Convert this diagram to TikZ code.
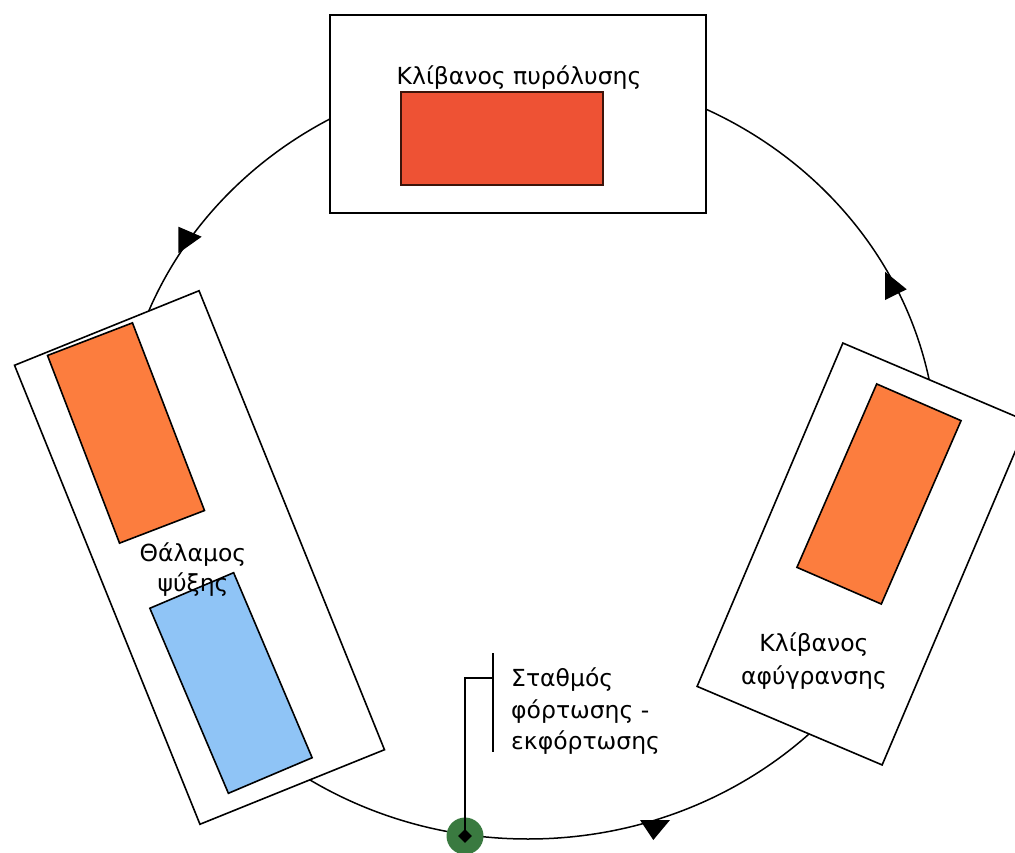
\documentclass[tikz,border=0pt]{standalone}
\usepackage{fontspec}
\setmainfont{DejaVu Sans}
\usetikzlibrary{shapes.geometric}
\definecolor{furnred}{RGB}{238,82,52}
\definecolor{furnredborder}{RGB}{60,20,10}
\definecolor{ovenorange}{RGB}{252,125,62}
\definecolor{coolblue}{RGB}{143,196,246}
\definecolor{stationgreen}{RGB}{58,122,64}
\begin{document}
\begin{tikzpicture}[x=1pt,y=-1pt,
  frame/.style={draw=black, line width=1.6pt, fill=white, inner sep=0pt, outer sep=0pt},
  core/.style={draw=black, line width=1.6pt, inner sep=0pt, outer sep=0pt},
  lbl/.style={inner sep=0pt, align=center},
  tip/.style={fill=black},
  wire/.style={draw=black, line width=1.4pt}
]
\clip (0,0) rectangle (1015,853);
\fill[white] (0,0) rectangle (1015,853);

% ring path
\node[ellipse, draw=black, line width=1.5pt, minimum width=818pt, minimum height=768pt, inner sep=0pt, outer sep=0pt] (ring) at (528,455) {};

% pyrolysis furnace (top)
\node[frame, minimum width=376pt, minimum height=198pt] (pyro) at (518,114) {};
\node[core, draw=furnredborder, line width=2.2pt, fill=furnred, minimum width=202pt, minimum height=93pt] (pyrocore) at (502,138.5) {};
\node[lbl, anchor=base, font=\fontsize{23.5}{31}\selectfont] (pyrolbl) at (519,85) {Κλίβανος πυρόλυσης};

% cooling chamber (left)
\node[frame, minimum width=199pt, minimum height=495pt, rotate=22] (cool) at (199.5,557.5) {};
\node[core, fill=ovenorange, minimum width=91pt, minimum height=201pt, rotate=21] (coolhot) at (126,433) {};
\node[core, fill=coolblue, minimum width=91pt, minimum height=201pt, rotate=23] (coolcold) at (231,683) {};
\node[lbl, anchor=north, font=\fontsize{23.5}{30}\selectfont] (coollbl) at (193,542.5) {Θάλαμος\\ψύξης};

% dewaxing furnace (right)
\node[frame, minimum width=201pt, minimum height=373pt, rotate=-23] (dewax) at (862.5,554) {};
\node[core, fill=ovenorange, minimum width=92pt, minimum height=200pt, rotate=-23.5] (dewaxcore) at (879,494) {};
\node[lbl, anchor=north, font=\fontsize{23.5}{33}\selectfont] (dewaxlbl) at (814,632.5) {Κλίβανος\\αφύγρανσης};

% arrow markers on the ring
\fill[tip] (178.3,226.7) -- (201.7,236.7) -- (178.3,253.3) -- cycle;
\fill[tip] (885,271.7) -- (906.7,289.3) -- (885,300) -- cycle;
\fill[tip] (640,820) -- (670,820) -- (653.3,840) -- cycle;

% loading / unloading station
\coordinate (brkmid) at (493,678);
\coordinate (brktop) at (493,653);
\coordinate (brkbot) at (493,752);
\node[circle, fill=stationgreen, minimum size=37pt, inner sep=0pt] (station) at (465,836) {};
\draw[wire] (station.center) |- (brkmid);
\draw[wire] (brktop) -- (brkbot);
\node[diamond, fill=black, minimum size=14pt, inner sep=0pt] (stationmark) at (station) {};
\node[inner sep=0pt, align=left, anchor=north west, font=\fontsize{23.5}{31.5}\selectfont] (stationlbl) at (511,667.5) {Σταθμός\\φόρτωσης -\\εκφόρτωσης};
\end{tikzpicture}
\end{document}
